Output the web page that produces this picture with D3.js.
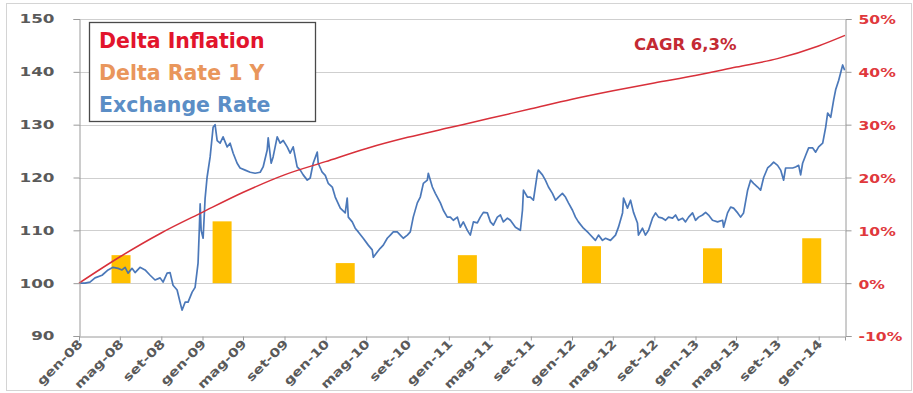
<!DOCTYPE html>
<html>
<head>
<meta charset="utf-8">
<script src="https://cdn.jsdelivr.net/npm/d3@7/dist/d3.min.js"></script>
<style>
  html, body { margin: 0; padding: 0; background: #ffffff; }
  svg { display: block; }
  text { font-family: "DejaVu Sans", sans-serif; font-weight: bold; }
</style>
</head>
<body>
<svg id="chart" width="913" height="393"></svg>
<script>
// ---- data (dates as decimal years) ----
const xDomain = ["2008-01-01", "2014-03-20"];

const tickLabels = ["gen-08","mag-08","set-08","gen-09","mag-09","set-09","gen-10","mag-10","set-10",
  "gen-11","mag-11","set-11","gen-12","mag-12","set-12","gen-13","mag-13","set-13","gen-14"];

const leftTicks = [90, 100, 110, 120, 130, 140, 150];
const rightTicks = [-10, 0, 10, 20, 30, 40, 50];

// Exchange rate (index, Jan 2008 = 100)
const rateYears = [2008.008,2008.049,2008.089,2008.130,2008.187,2008.236,2008.276,2008.317,2008.349,2008.374,
  2008.398,2008.430,2008.455,2008.495,2008.536,2008.577,2008.617,2008.658,2008.682,2008.715,2008.739,2008.763,
  2008.796,2008.820,2008.836,2008.861,2008.885,2008.918,2008.942,2008.966,2008.975,2008.983,2008.991,2009.007,
  2009.023,2009.039,2009.064,2009.088,2009.104,2009.121,2009.145,2009.169,2009.202,2009.226,2009.251,2009.283,
  2009.307,2009.348,2009.389,2009.429,2009.470,2009.494,2009.527,2009.535,2009.559,2009.575,2009.608,2009.632,
  2009.657,2009.689,2009.713,2009.738,2009.770,2009.795,2009.819,2009.852,2009.876,2009.900,2009.933,2009.941,
  2009.973,2009.998,2010.022,2010.055,2010.079,2010.120,2010.160,2010.176,2010.185,2010.217,2010.241,2010.266,
  2010.306,2010.347,2010.379,2010.388,2010.420,2010.444,2010.469,2010.501,2010.526,2010.550,2010.582,2010.607,
  2010.631,2010.664,2010.688,2010.712,2010.745,2010.769,2010.794,2010.826,2010.834,2010.867,2010.891,2010.932,
  2010.956,2010.988,2011.013,2011.037,2011.070,2011.094,2011.118,2011.151,2011.175,2011.200,2011.232,2011.256,
  2011.281,2011.313,2011.338,2011.362,2011.394,2011.419,2011.443,2011.476,2011.500,2011.541,2011.581,2011.598,
  2011.606,2011.638,2011.662,2011.687,2011.719,2011.727,2011.760,2011.784,2011.809,2011.841,2011.866,2011.890,
  2011.922,2011.947,2011.971,2012.004,2012.028,2012.052,2012.093,2012.134,2012.190,2012.215,2012.247,2012.272,
  2012.312,2012.353,2012.377,2012.410,2012.418,2012.450,2012.475,2012.499,2012.531,2012.539,2012.572,2012.596,
  2012.621,2012.653,2012.678,2012.702,2012.734,2012.759,2012.783,2012.816,2012.840,2012.864,2012.897,2012.921,
  2012.946,2012.978,2013.002,2013.027,2013.059,2013.084,2013.108,2013.140,2013.181,2013.222,2013.230,2013.262,
  2013.287,2013.311,2013.344,2013.368,2013.392,2013.425,2013.449,2013.473,2013.506,2013.530,2013.555,2013.587,
  2013.611,2013.636,2013.668,2013.693,2013.717,2013.733,2013.758,2013.790,2013.814,2013.839,2013.855,2013.871,
  2013.896,2013.920,2013.953,2013.977,2014.001,2014.034,2014.058,2014.074,2014.099,2014.123,2014.139,2014.164,
  2014.196,2014.212];
const rateValues = [100.0,100.0,100.2,101.0,101.5,102.5,103.0,102.8,102.5,103.0,
  101.9,102.8,102.0,103.0,102.5,101.5,100.6,101.0,100.2,101.9,102.0,99.6,
  98.7,96.4,94.9,96.4,96.4,98.3,99.2,103.8,109.5,115.0,110.0,108.5,
  116.0,120.0,123.9,129.5,130.0,127.0,126.5,127.7,125.8,126.5,124.6,122.7,
  121.8,121.4,121.0,120.8,121.0,122.0,125.2,127.5,122.7,123.9,127.7,126.5,
  127.0,125.8,124.6,125.8,122.0,121.4,120.5,119.5,119.9,122.7,124.8,122.7,
  121.0,120.4,118.9,118.2,116.3,114.2,113.3,116.1,112.5,111.6,110.4,109.7,
  108.5,107.2,106.3,104.9,105.9,106.6,107.2,108.5,109.1,109.7,109.7,109.1,
  108.5,109.1,109.7,112.5,115.2,116.3,118.9,119.5,120.8,118.2,117.0,115.2,
  113.8,112.5,112.5,111.9,112.5,110.6,111.6,110.0,109.1,111.6,111.4,112.5,
  113.4,113.3,111.6,111.0,112.5,112.9,111.6,112.3,111.9,110.6,110.0,113.8,
  117.6,116.3,116.3,115.7,120.8,121.4,120.5,119.5,118.2,117.0,115.7,116.3,
  117.0,116.3,115.2,113.8,112.5,111.6,110.4,109.5,108.1,109.1,108.1,108.5,
  108.1,109.1,110.6,113.3,116.1,114.2,115.7,113.4,111.4,109.1,110.4,109.1,
  110.0,112.3,113.3,112.5,112.3,111.9,112.5,112.3,112.9,111.9,112.3,111.6,
  112.5,113.3,111.9,112.5,112.9,113.4,112.9,111.9,111.6,111.9,110.6,113.3,
  114.4,114.2,113.3,112.5,113.3,117.6,119.5,118.9,118.2,117.6,120.0,121.8,
  122.3,122.9,122.3,121.4,119.5,121.8,121.8,121.8,122.0,122.3,120.5,122.7,
  124.2,125.6,125.6,124.8,125.8,126.5,129.5,132.2,131.4,134.7,136.6,138.4,
  141.3,140.3];

// Cumulative inflation differential (%)
const inflationYears = [2008.000,2008.333,2008.667,2009.000,2009.333,2009.667,2010.000,2010.333,2010.667,
  2011.000,2011.333,2011.667,2012.000,2012.333,2012.667,2013.000,2013.333,2013.667,2014.000,2014.215];
const inflationValues = [0.0,5.0,9.5,13.4,17.2,20.5,23.0,25.5,27.6,
  29.4,31.2,33.0,34.8,36.4,37.9,39.3,40.9,42.5,44.9,46.9];

// 1-year rate change (%)
const barYears = [2008.341, 2009.161, 2010.160, 2011.151, 2012.158, 2013.140, 2013.945];
const barValues = [5.3, 11.7, 3.8, 5.3, 7.0, 6.6, 8.5];

const legendLabels = ["Delta Inflation", "Delta Rate 1 Y", "Exchange Rate"];
const cagrLabel = "CAGR 6,3%";

// ---- helpers / scales ----
const toDate = y => new Date(Date.UTC(2008, 0, 1) + (y - 2008) * 365.25 * 864e5);

const plot = { left: 79, right: 845, top: 19, bottom: 336 };
const svg = d3.select("#chart");

const x = d3.scaleUtc()
  .domain(xDomain.map(s => new Date(s + "T00:00:00Z")))
  .range([plot.left, plot.right]);
const yL = d3.scaleLinear().domain([90, 150]).range([plot.bottom, plot.top]);
const yR = d3.scaleLinear().domain([-10, 50]).range([plot.bottom, plot.top]);

const colors = {
  grid: "#cfcfcf", axis: "#9a9a9a", leftText: "#5a5a5a", rightText: "#e0383c",
  rate: "#3c6db3", inflation: "#d8303a", bars: "#ffc000",
  legend: ["#e2142c", "#e9965c", "#5b8ec6"], cagr: "#c42a33"
};

// outer frame
svg.append("rect")
  .attr("x", 6.5).attr("y", 3.5).attr("width", 905).attr("height", 387)
  .attr("fill", "#ffffff").attr("stroke", "#d4d4d4");

// horizontal gridlines
svg.append("g").selectAll("line")
  .data(leftTicks.filter(v => v > 90))
  .join("line")
  .attr("x1", plot.left).attr("x2", plot.right)
  .attr("y1", d => Math.round(yL(d)) + 0.5).attr("y2", d => Math.round(yL(d)) + 0.5)
  .attr("stroke", colors.grid).attr("stroke-width", 1);

// bars on the right (%) axis
const barW = 19;
svg.append("g").selectAll("rect")
  .data(barYears.map((t, i) => ({ t: toDate(t), v: barValues[i] })))
  .join("rect")
  .attr("x", d => x(d.t) - barW / 2)
  .attr("width", barW)
  .attr("y", d => yR(d.v))
  .attr("height", d => yR(0) - yR(d.v))
  .attr("fill", colors.bars);

// exchange rate line
const rateData = rateYears.map((t, i) => ({ t: toDate(t), v: rateValues[i] }));
svg.append("path")
  .datum(rateData)
  .attr("fill", "none")
  .attr("stroke", colors.rate)
  .attr("stroke-width", 1.7)
  .attr("stroke-linejoin", "round")
  .attr("opacity", 0.92)
  .attr("d", d3.line().x(d => x(d.t)).y(d => yL(d.v)));

// inflation line
const inflData = inflationYears.map((t, i) => ({ t: toDate(t), v: inflationValues[i] }));
svg.append("path")
  .datum(inflData)
  .attr("fill", "none")
  .attr("stroke", colors.inflation)
  .attr("stroke-width", 1.5)
  .attr("d", d3.line().curve(d3.curveMonotoneX).x(d => x(d.t)).y(d => yR(d.v)));

// left axis
const gL = svg.append("g")
  .attr("transform", `translate(${plot.left + 0.5},0)`)
  .call(d3.axisLeft(yL).tickValues(leftTicks).tickSize(6).tickPadding(25));
gL.select(".domain").attr("stroke", colors.axis);
gL.selectAll(".tick line").attr("stroke", colors.axis);
gL.selectAll(".tick text")
  .attr("fill", colors.leftText).attr("font-size", 12)
  .attr("text-anchor", "end")
  .attr("x", null)
  .attr("transform", "translate(-25,0) scale(1.4,1)");

// right axis
const gR = svg.append("g")
  .attr("transform", `translate(${plot.right + 0.5},0)`)
  .call(d3.axisRight(yR).tickValues(rightTicks).tickFormat(d => d + "%").tickSize(6).tickPadding(13));
gR.select(".domain").attr("stroke", colors.axis);
gR.selectAll(".tick line").attr("stroke", colors.axis);
gR.selectAll(".tick text")
  .attr("fill", colors.rightText).attr("font-size", 12)
  .attr("text-anchor", "start")
  .attr("x", null)
  .attr("transform", "translate(13,1) scale(1.3,1)");

// bottom axis
const tickDates = d3.utcMonth.every(4).range(new Date(Date.UTC(2008, 0, 1)), new Date(Date.UTC(2014, 0, 2)));
const gB = svg.append("g")
  .attr("transform", `translate(0,${plot.bottom + 0.5})`)
  .call(d3.axisBottom(x).tickValues(tickDates).tickFormat((d, i) => tickLabels[i]).tickSize(4));
gB.select(".domain").attr("stroke", colors.axis);
gB.selectAll(".tick line").attr("stroke", colors.axis);
gB.selectAll(".tick text")
  .attr("fill", colors.leftText).attr("font-size", 12)
  .attr("text-anchor", "end")
  .attr("x", null).attr("y", null).attr("dy", null)
  .attr("transform", "translate(4,8) rotate(-45) scale(1.25,1)");

// legend
const lg = svg.append("g");
lg.append("rect")
  .attr("x", 89.5).attr("y", 22.5).attr("width", 226).attr("height", 99)
  .attr("fill", "#ffffff").attr("stroke", "#4a4a4a").attr("stroke-width", 1.3);
lg.selectAll("text")
  .data(legendLabels)
  .join("text")
  .attr("x", 99).attr("y", (d, i) => 48 + i * 32)
  .attr("font-size", 20.5)
  .attr("fill", (d, i) => colors.legend[i])
  .text(d => d);

// CAGR annotation
svg.append("text")
  .attr("x", 634).attr("y", 50)
  .attr("font-size", 16.5)
  .attr("fill", colors.cagr)
  .text(cagrLabel);
</script>
</body>
</html>
